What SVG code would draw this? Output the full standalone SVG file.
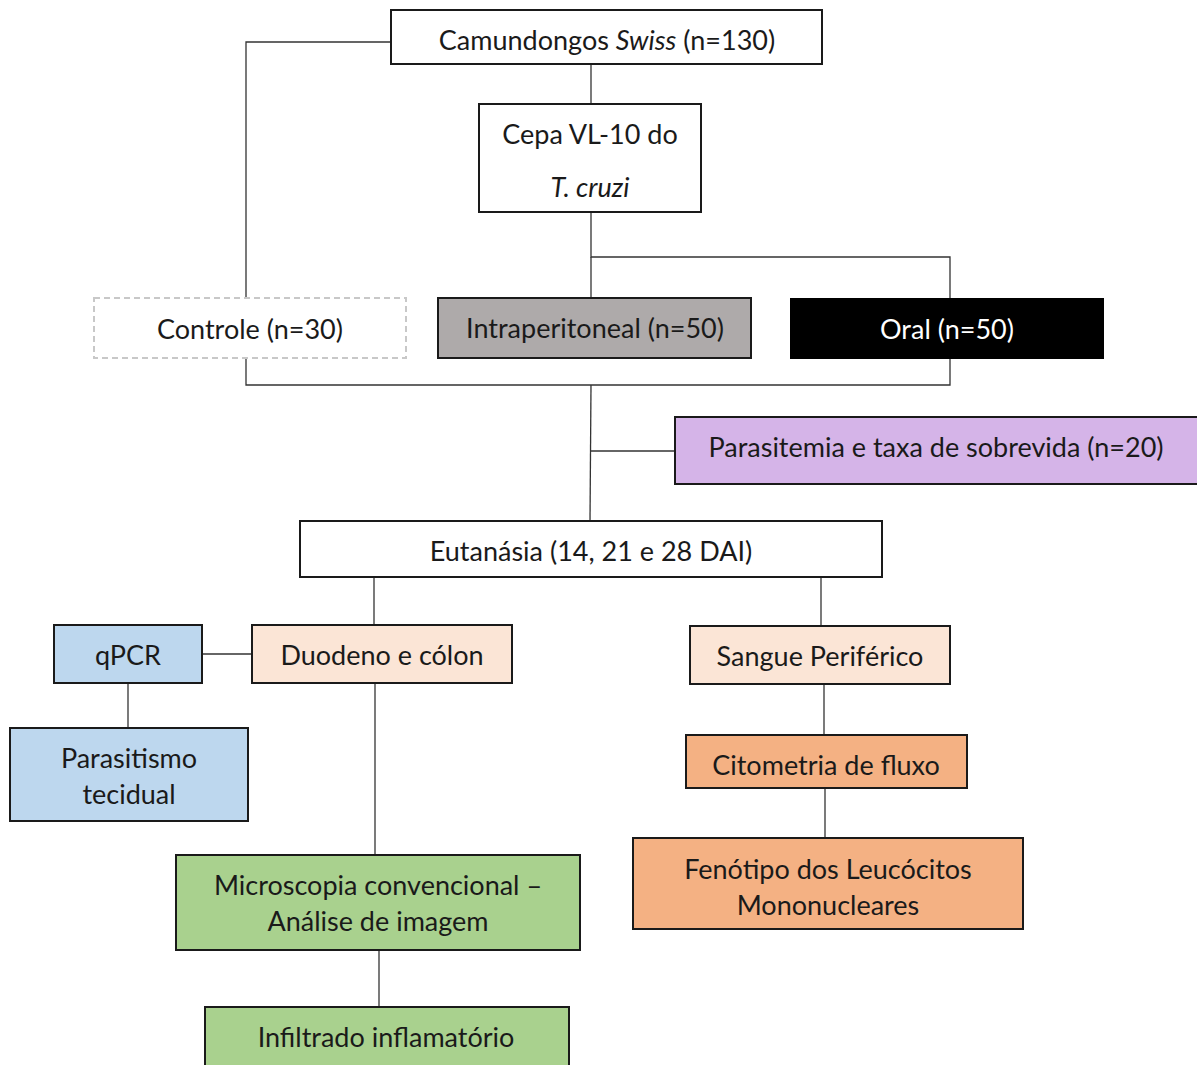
<svg xmlns="http://www.w3.org/2000/svg" width="1197" height="1065" viewBox="0 0 1197 1065">
<style>
.box{stroke:#1a1a1a;stroke-width:2}
.t{font-family:Lato,"Open Sans","Liberation Sans",sans-serif;font-size:27px;fill:#1a1a1a;text-anchor:middle;dominant-baseline:central}
.w{fill:#ffffff}
.c{fill:none;stroke:#333;stroke-width:1.3}
</style>
<rect width="1197" height="1065" fill="#ffffff"/>
<g id="connectors">
<polyline class="c" points="391,42 246,42 246,385 950,385 950,359"/>
<line class="c" x1="591" y1="64" x2="591" y2="104"/>
<polyline class="c" points="591,212 591,257 950,257 950,298"/>
<line class="c" x1="591" y1="257" x2="591" y2="298"/>
<line class="c" x1="591" y1="385" x2="590" y2="521"/>
<line class="c" x1="590" y1="451" x2="675" y2="451"/>
<line class="c" x1="374" y1="577" x2="374" y2="625"/>
<line class="c" x1="821" y1="577" x2="821" y2="626"/>
<line class="c" x1="202" y1="654" x2="252" y2="654"/>
<line class="c" x1="128" y1="683" x2="128" y2="728"/>
<line class="c" x1="375" y1="683" x2="375" y2="855"/>
<line class="c" x1="379" y1="950" x2="379" y2="1007"/>
<line class="c" x1="824" y1="684" x2="824" y2="735"/>
<line class="c" x1="825" y1="788" x2="825" y2="838"/>
</g>
<g id="camundongos">
<rect class="box" x="391" y="10" width="431" height="54" fill="#fff"/>
<text class="t" x="607" y="39">Camundongos <tspan font-style="italic">Swiss</tspan> (n=130)</text>
</g>
<g id="cepa">
<rect class="box" x="479" y="104" width="222" height="108" fill="#fff"/>
<text class="t" x="590" y="133">Cepa VL-10 do</text>
<text class="t" x="590" y="186" font-style="italic">T. cruzi</text>
</g>
<g id="controle">
<rect x="94" y="298" width="312" height="60" fill="#fff" stroke="#c8c8c8" stroke-width="2" stroke-dasharray="6,4"/>
<text class="t" x="250" y="328">Controle (n=30)</text>
</g>
<g id="intraperitoneal">
<rect class="box" x="438" y="298" width="313" height="60" fill="#aeaaaa"/>
<text class="t" x="595" y="327">Intraperitoneal (n=50)</text>
</g>
<g id="oral">
<rect x="790" y="298" width="314" height="61" fill="#000"/>
<text class="t w" x="947" y="328">Oral (n=50)</text>
</g>
<g id="parasitemia">
<rect class="box" x="675" y="417" width="530" height="67" fill="#d5b4e8"/>
<text class="t" x="936" y="446">Parasitemia e taxa de sobrevida (n=20)</text>
</g>
<g id="eutanasia">
<rect class="box" x="300" y="521" width="582" height="56" fill="#fff"/>
<text class="t" x="591" y="550">Eutanásia (14, 21 e 28 DAI)</text>
</g>
<g id="qpcr">
<rect class="box" x="54" y="625" width="148" height="58" fill="#bdd7ee"/>
<text class="t" x="128" y="654">qPCR</text>
</g>
<g id="duodeno">
<rect class="box" x="252" y="625" width="260" height="58" fill="#fbe5d6"/>
<text class="t" x="382" y="654">Duodeno e cólon</text>
</g>
<g id="parasitismo">
<rect class="box" x="10" y="728" width="238" height="93" fill="#bdd7ee"/>
<text class="t" x="129" y="757">Parasitismo</text>
<text class="t" x="129" y="793">tecidual</text>
</g>
<g id="microscopia">
<rect class="box" x="176" y="855" width="404" height="95" fill="#a9d18e"/>
<text class="t" x="378" y="884">Microscopia convencional –</text>
<text class="t" x="378" y="920">Análise de imagem</text>
</g>
<g id="infiltrado">
<rect class="box" x="205" y="1007" width="364" height="70" fill="#a9d18e"/>
<text class="t" x="386" y="1036">Infiltrado inflamatório</text>
</g>
<g id="sangue">
<rect class="box" x="690" y="626" width="260" height="58" fill="#fbe5d6"/>
<text class="t" x="820" y="655">Sangue Periférico</text>
</g>
<g id="citometria">
<rect class="box" x="686" y="735" width="281" height="53" fill="#f4b183"/>
<text class="t" x="826" y="764">Citometria de fluxo</text>
</g>
<g id="fenotipo">
<rect class="box" x="633" y="838" width="390" height="91" fill="#f4b183"/>
<text class="t" x="828" y="868">Fenótipo dos Leucócitos</text>
<text class="t" x="828" y="904">Mononucleares</text>
</g>
</svg>
